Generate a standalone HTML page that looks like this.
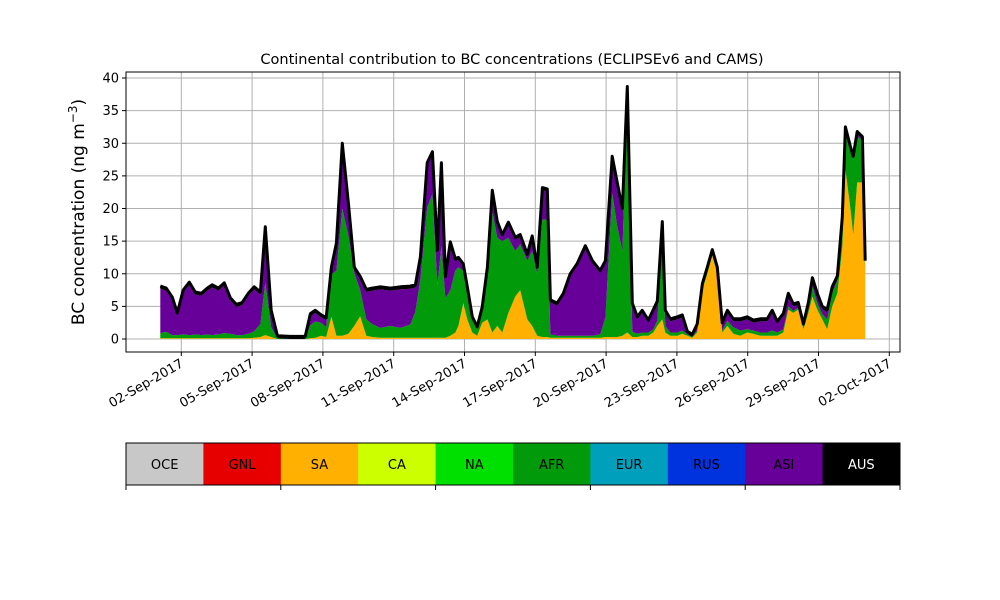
<!DOCTYPE html>
<html><head><meta charset="utf-8">
<style>
html,body{margin:0;padding:0;background:#fff;}
svg{display:block;font-family:"DejaVu Sans","Liberation Sans",sans-serif;}
</style></head>
<body>
<svg id="chart" width="1000" height="600" viewBox="0 0 1000 600" xmlns="http://www.w3.org/2000/svg">
<rect x="0" y="0" width="1000" height="600" fill="#fff"/>
<text x="512" y="64" text-anchor="middle" font-size="14.5">Continental contribution to BC concentrations (ECLIPSEv6 and CAMS)</text>
<text transform="translate(84,212) rotate(-90)" text-anchor="middle" font-size="17">BC concentration (ng m<tspan dy="-7" font-size="12">−3</tspan><tspan dy="7">)</tspan></text>
<g id="grid"></g>
<g id="areas"></g>
<g id="axes"></g>
<g id="cbar"></g>
</svg>
<script>
// time in days of September 2017 (fractional)
const times=[1.11,1.36,1.62,1.83,2.08,2.34,2.59,2.85,3.10,3.31,3.57,3.82,4.08,4.33,4.58,4.84,5.09,5.35,5.56,5.81,6.07,6.62,7.25,7.47,7.68,7.93,8.14,8.36,8.57,8.82,9.08,9.33,9.58,9.84,10.09,10.43,10.86,11.28,11.70,11.92,12.13,12.42,12.64,12.85,13.02,13.19,13.40,13.61,13.74,13.95,14.12,14.33,14.54,14.75,14.97,15.18,15.39,15.60,15.86,16.15,16.36,16.66,16.87,17.08,17.30,17.51,17.64,17.93,18.19,18.48,18.78,19.12,19.42,19.75,19.97,20.26,20.47,20.69,20.90,21.11,21.32,21.53,21.79,22.00,22.17,22.38,22.51,22.72,23.02,23.23,23.44,23.65,23.86,24.08,24.29,24.50,24.71,24.92,25.14,25.39,25.69,25.98,26.24,26.53,26.83,27.04,27.25,27.51,27.72,27.93,28.14,28.36,28.57,28.74,28.95,29.16,29.37,29.58,29.80,30.01,30.14,30.35,30.47,30.64,30.86,30.98];
const saVals=[0.1,0.1,0.1,0.1,0.1,0.1,0.1,0.1,0.1,0.1,0.1,0.1,0.1,0.1,0.1,0.1,0.2,0.3,0.6,0.3,0,0,0,0.1,0.2,0.5,0.3,3.4,0.5,0.5,0.8,2.0,3.5,0.5,0.3,0.2,0.2,0.2,0.2,0.2,0.2,0.2,0.2,0.2,0.2,0.2,0.5,1.0,2.0,5.5,3.0,1.0,0.5,2.5,3.0,1.0,2.0,1.0,4.0,6.5,7.5,3.0,2.0,0.5,0.3,0.3,0.2,0.2,0.2,0.2,0.2,0.2,0.2,0.2,0.3,0.3,0.3,0.5,1.0,0.3,0.3,0.5,0.5,1.0,2.0,3.0,1.0,0.5,0.5,0.8,0.5,0.2,1.0,7.5,10.0,12.8,10.0,1.0,2.0,0.8,0.5,1.0,0.8,0.5,0.5,0.5,0.5,1.0,4.5,4.0,4.5,1.5,4.0,6.5,4.5,3.0,1.5,5.0,7.0,14.0,26.0,20.0,16.0,24.0,24.0,10.0];
const afrVals=[0.8,1.0,0.5,0.5,0.6,0.5,0.6,0.5,0.6,0.5,0.6,0.8,0.7,0.5,0.5,0.7,1.0,2.0,8.0,1.5,0.1,0,0,2.0,2.5,2.0,1.5,6.5,10.0,19.5,15.0,8.1,4.0,2.5,2.0,1.5,1.8,1.5,2.0,4.0,9.0,20.0,22.0,8.0,14.0,6.0,7.0,9.5,9.0,5.0,4.5,2.0,1.0,2.0,7.5,18.5,13.5,14.0,11.5,7.0,7.0,9.0,11.5,9.5,18.0,18.0,0.5,0.3,0.3,0.3,0.3,0.3,0.3,0.5,3.0,22.0,17.0,13.0,35.0,0.8,0.5,0.5,0.5,0.5,0.8,12.0,1.0,0.5,0.5,0.5,0.2,0.1,0.3,0.3,0.3,0.3,0.3,0.3,0.8,1.0,0.8,0.5,0.5,0.5,0.5,0.8,0.5,0.5,0.5,0.3,0.3,0.3,0.5,1.5,1.0,0.8,1.5,2.0,2.0,4.0,6.0,9.0,11.5,7.0,6.5,1.5];
const asiVals=[6.8,6.3,5.4,3.0,6.4,7.7,6.1,6.0,6.7,7.3,6.7,7.3,5.1,4.3,4.6,5.8,6.4,4.5,8.2,2.2,0,0,0,1.4,1.3,0.8,1.1,0.7,3.8,9.6,4.6,0.5,1.7,4.2,5.1,5.9,5.4,5.9,5.5,3.7,3.0,6.4,6.1,5.0,12.4,3.0,7.0,1.4,1.1,0.6,0.1,0,0,0,0.1,2.9,2.1,0.6,2.0,1.7,1.1,0.6,1.9,0.6,4.5,4.3,4.9,4.6,6.1,9.1,10.7,13.4,11.1,9.4,8.3,5.3,6.3,6.1,2.3,4.0,2.2,3.0,1.5,2.6,2.6,2.6,2.0,1.7,2.0,2.0,0.1,0,0.6,0.3,0.3,0.2,0.3,0.8,1.2,0.9,1.4,1.5,1.2,1.7,1.7,2.7,1.3,2.0,1.6,0.7,0.4,0.1,0.7,1.0,1.1,0.8,1.1,0.6,0.3,0.3,0.1,0.1,0.1,0.4,0.1,0.1];
const ausVals=times.map(()=>0.4);
const yTicks=[0,5,10,15,20,25,30,35,40];
const xTickDays=[2,5,8,11,14,17,20,23,26,29,32];
const xTickLabels=["02-Sep-2017","05-Sep-2017","08-Sep-2017","11-Sep-2017","14-Sep-2017","17-Sep-2017","20-Sep-2017","23-Sep-2017","26-Sep-2017","29-Sep-2017","02-Oct-2017"];
const regions=["OCE","GNL","SA","CA","NA","AFR","EUR","RUS","ASI","AUS"];
const regionColors=["#c8c8c8","#e60000","#ffb000","#ccff00","#00e000","#009a0a","#00a0bc","#0033dd","#660099","#000000"];

const NS="http://www.w3.org/2000/svg";
const L=126,R=900,T=72,B=352;
const xs=d=>181.3+(d-2)*23.6;
const ys=v=>339-v*6.525;
function mk(tag,attrs,parent){const e=document.createElementNS(NS,tag);for(const k in attrs)e.setAttribute(k,attrs[k]);parent.appendChild(e);return e;}
const grid=document.getElementById('grid'),areas=document.getElementById('areas'),axes=document.getElementById('axes'),cbar=document.getElementById('cbar');

yTicks.forEach(v=>{
  const y=ys(v);
  const gl=mk('line',{x1:L,x2:R,y1:y,y2:y,stroke:'#b0b0b0','stroke-width':1},grid);
  
  
  const tk=mk('line',{x1:L-4,x2:L,y1:y,y2:y,stroke:'#000'},axes);
  
  
  const t=mk('text',{x:L-7,y:y+4.5,'text-anchor':'end','font-size':13},axes);
  t.textContent=v;
  
  
});
xTickDays.forEach((d,i)=>{
  const x=xs(d);
  const gl=mk('line',{x1:x,x2:x,y1:T,y2:B,stroke:'#b0b0b0','stroke-width':1},grid);
  
  
  const tk=mk('line',{x1:x,x2:x,y1:B,y2:B+4,stroke:'#000'},axes);
  
  
  const t=mk('text',{x:0,y:0,'text-anchor':'end','font-size':13,transform:`translate(${x+3},${B+14}) rotate(-30)`},axes);
  t.textContent=xTickLabels[i];
  
  
});

const series=[["SA",saVals,"#ffb000"],["AFR",afrVals,"#009a0a"],["ASI",asiVals,"#660099"],["AUS",ausVals,"#000000"]];
let base=times.map(()=>0);
series.forEach(([name,vals,col])=>{
  const top=base.map((b,i)=>b+vals[i]);
  let d='M'+times.map((t,i)=>xs(t).toFixed(1)+','+ys(top[i]).toFixed(1)).join('L');
  for(let i=times.length-1;i>=0;i--)d+='L'+xs(times[i]).toFixed(1)+','+ys(base[i]).toFixed(1);
  d+='Z';
  const p=mk('path',{d:d,fill:col,stroke:'none'},areas);
  
  
  base=top;
});
const tl=mk('polyline',{points:times.map((t,i)=>xs(t).toFixed(1)+','+ys(base[i]).toFixed(1)).join(' '),fill:'none',stroke:'#000','stroke-width':3,'stroke-linejoin':'round'},areas);



const fr=mk('rect',{x:L,y:T,width:R-L,height:B-T,fill:'none',stroke:'#000','stroke-width':1},axes);



const cw=(R-L)/regions.length;
regions.forEach((r,i)=>{
  const rc=mk('rect',{x:L+i*cw,y:443,width:cw+0.5,height:42,fill:regionColors[i]},cbar);
  
  
  const t=mk('text',{x:L+i*cw+cw/2,y:469,'text-anchor':'middle','font-size':13,fill:r==="AUS"?"#fff":"#000"},cbar);
  t.textContent=r;
  
  
});
const cf=mk('rect',{x:L,y:443,width:R-L,height:42,fill:'none',stroke:'#000','stroke-width':1},cbar);


for(let k=0;k<=5;k++){
  const x=L+k*(R-L)/5;
  const tk=mk('line',{x1:x,x2:x,y1:485,y2:490,stroke:'#000'},cbar);
  
  
}
</script>
</body></html>
